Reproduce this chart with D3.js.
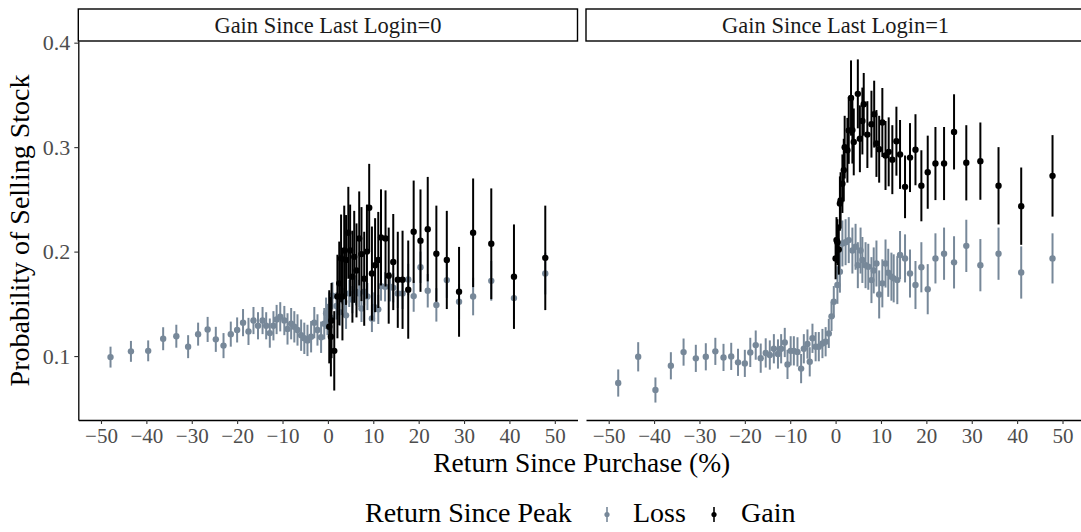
<!DOCTYPE html>
<html><head><meta charset="utf-8">
<script src="https://cdn.jsdelivr.net/npm/d3@7"></script>
<style>
body{margin:0;background:#fff}
svg{display:block}
text{font-family:"Liberation Serif","Times New Roman",serif}
</style>
</head><body>
<svg id="chart" width="1081" height="532"></svg>
<script>
// ---------- data ----------
const facetLabels = ["Gain Since Last Login=0", "Gain Since Last Login=1"];
const seriesNames = ["Loss", "Gain"];
const seriesColors = ["#778899", "#000000"];
const xTicks = [-50, -40, -30, -20, -10, 0, 10, 20, 30, 40, 50];
const yTicks = [0.1, 0.2, 0.3, 0.4];

// Facet 0 (Gain Since Last Login = 0), Loss series
const f0LossX = [-47.9,-43.4,-39.6,-36.3,-33.4,-30.8,-28.6,-26.5,-24.7,-23.0,-21.4,-20.0,-18.7,-17.5,-16.4,-15.4,-14.4,-13.6,-12.8,-12.0,-11.3,-10.5,-9.6,-8.9,-8.1,-7.4,-6.7,-5.9,-5.2,-4.5,-3.7,-3.0,-2.3,-1.5,-0.8,-0.4,-0.1,0.3,0.6,1.0,1.9,2.6,3.6,4.0,4.7,5.4,6.2,6.9,7.4,8.0,8.7,9.7,10.2,11.1,11.7,12.6,13.7,14.4,15.4,16.45,17.7,18.9,20.4,22.0,23.9,26.2,28.9,32.0,36.0,41.0,47.9];
const f0LossY = [0.099,0.1045,0.105,0.1166,0.119,0.109,0.121,0.1255,0.116,0.110,0.121,0.125,0.132,0.1236,0.134,0.129,0.134,0.129,0.122,0.129,0.135,0.1376,0.134,0.126,0.131,0.128,0.125,0.120,0.117,0.115,0.1185,0.132,0.125,0.118,0.131,0.141,0.135,0.147,0.137,0.1577,0.148,0.142,0.152,0.139,0.160,0.154,0.1615,0.160,0.1456,0.1615,0.157,0.136,0.147,0.1447,0.167,0.1663,0.1663,0.1654,0.160,0.160,0.1733,0.1574,0.185,0.1625,0.149,0.1727,0.152,0.157,0.172,0.1555,0.179];
const f0LossErr = [0.010,0.010,0.010,0.011,0.011,0.011,0.011,0.012,0.012,0.012,0.012,0.012,0.013,0.013,0.013,0.013,0.013,0.013,0.014,0.014,0.014,0.014,0.014,0.015,0.015,0.015,0.015,0.015,0.015,0.015,0.015,0.015,0.015,0.015,0.015,0.015,0.015,0.014,0.014,0.013,0.013,0.013,0.013,0.013,0.013,0.013,0.013,0.013,0.013,0.013,0.013,0.013,0.014,0.014,0.014,0.014,0.014,0.014,0.014,0.015,0.015,0.015,0.015,0.016,0.016,0.017,0.017,0.018,0.019,0.020,0.020];

// Facet 0, Gain series
const f0GainX = [0.3,0.66,0.8,1.4,2.1,2.5,2.9,3.2,3.6,4.0,4.5,4.9,5.4,5.8,6.3,6.9,7.4,8.0,8.6,9.1,9.7,10.4,11.1,11.7,12.7,13.4,14.4,15.4,16.45,17.7,18.9,20.4,22.0,23.9,26.2,28.9,32.0,36.0,41.0,47.9];
const f0GainY = [0.128,0.1185,0.134,0.105,0.157,0.1696,0.1935,0.157,0.201,0.192,0.218,0.201,0.176,0.195,0.182,0.2126,0.1976,0.174,0.200,0.242,0.179,0.187,0.192,0.2136,0.2126,0.177,0.190,0.173,0.173,0.1636,0.219,0.2105,0.2215,0.198,0.192,0.1615,0.218,0.2075,0.176,0.194];
const f0GainErr = [0.035,0.038,0.036,0.038,0.040,0.040,0.042,0.042,0.043,0.043,0.044,0.044,0.044,0.044,0.045,0.045,0.045,0.045,0.045,0.042,0.045,0.045,0.046,0.046,0.046,0.046,0.046,0.046,0.047,0.047,0.049,0.049,0.050,0.046,0.047,0.043,0.052,0.053,0.050,0.050];

// Facet 1 (Gain Since Last Login = 1), Loss series
const f1LossX = [-47.9,-43.5,-39.7,-36.3,-33.5,-30.8,-28.6,-26.5,-24.7,-23.0,-21.5,-20.0,-18.8,-17.6,-16.5,-15.4,-14.5,-13.6,-12.7,-12.0,-11.2,-10.6,-9.9,-9.2,-8.4,-7.6,-7.0,-6.2,-5.7,-5.1,-4.4,-3.7,-2.9,-2.2,-1.5,-0.9,-0.4,0.4,0.95,1.5,2.2,2.9,3.7,4.4,4.9,5.5,5.9,6.6,7.2,7.9,8.4,9.0,9.6,10.3,11.0,11.6,12.3,12.8,13.6,14.2,15.3,16.4,17.6,18.9,20.3,22.0,23.9,26.1,28.8,31.9,35.9,40.9,47.8];
const f1LossY = [0.0742,0.0993,0.0675,0.0907,0.1038,0.0978,0.0993,0.1045,0.0987,0.0997,0.094,0.093,0.1035,0.1105,0.098,0.103,0.101,0.107,0.102,0.107,0.113,0.092,0.105,0.105,0.104,0.088,0.107,0.1115,0.0945,0.117,0.109,0.109,0.112,0.1137,0.1217,0.138,0.152,0.168,0.1807,0.2078,0.209,0.211,0.201,0.2046,0.187,0.201,0.192,0.187,0.1855,0.1727,0.182,0.1886,0.159,0.1696,0.1886,0.1797,0.176,0.1744,0.1727,0.1967,0.1935,0.179,0.168,0.185,0.164,0.1935,0.198,0.1897,0.2055,0.187,0.198,0.180,0.1935];
const f1LossErr = [0.013,0.014,0.012,0.013,0.013,0.013,0.013,0.013,0.013,0.013,0.013,0.013,0.014,0.014,0.014,0.014,0.014,0.014,0.014,0.014,0.014,0.014,0.014,0.014,0.014,0.014,0.014,0.014,0.014,0.014,0.014,0.014,0.014,0.014,0.014,0.014,0.015,0.018,0.020,0.022,0.022,0.022,0.022,0.022,0.022,0.022,0.022,0.022,0.022,0.022,0.022,0.022,0.023,0.023,0.023,0.023,0.023,0.023,0.023,0.023,0.023,0.023,0.023,0.024,0.024,0.024,0.025,0.025,0.025,0.025,0.025,0.025,0.024];

// Facet 1, Gain series
const f1GainX = [0.0,0.2,0.4,0.7,0.95,1.1,1.5,1.8,2.0,2.6,2.9,3.4,3.7,4.0,4.9,5.35,5.9,6.2,7.0,7.9,8.5,9.0,9.6,10.3,11.0,11.7,12.5,13.4,14.2,15.3,16.4,17.6,18.9,20.3,22.0,23.9,26.1,28.8,31.9,35.9,40.9,47.8];
const f1GainY = [0.1935,0.211,0.209,0.202,0.246,0.249,0.265,0.278,0.300,0.297,0.316,0.347,0.3163,0.305,0.351,0.308,0.325,0.341,0.312,0.322,0.3316,0.3035,0.298,0.3236,0.292,0.2955,0.288,0.3057,0.293,0.262,0.290,0.2975,0.263,0.276,0.2843,0.2843,0.3146,0.285,0.2866,0.263,0.2435,0.2725];
const f1GainErr = [0.020,0.022,0.022,0.024,0.026,0.027,0.028,0.030,0.030,0.031,0.032,0.036,0.032,0.032,0.033,0.032,0.032,0.030,0.032,0.032,0.032,0.032,0.032,0.033,0.033,0.033,0.033,0.033,0.033,0.030,0.033,0.034,0.034,0.035,0.035,0.035,0.036,0.036,0.037,0.037,0.037,0.039];

// ---------- layout ----------
const svg = d3.select("#chart");
const panelLeft = [78.3, 586];
const panelW = 499.2;
const panelTop = 41, panelBottom = 420;
const stripTop = 9;
const tickFont = 21, titleFont = 27.5, stripFont = 22.5;

const x = d3.scaleLinear().domain([-55, 55]).range([0, panelW]);
const y = d3.scaleLinear().domain([0.0388, 0.4016]).range([panelBottom, panelTop]);

const facets = [
  [{x: f0LossX, y: f0LossY, e: f0LossErr}, {x: f0GainX, y: f0GainY, e: f0GainErr}],
  [{x: f1LossX, y: f1LossY, e: f1LossErr}, {x: f1GainX, y: f1GainY, e: f1GainErr}]
];

facets.forEach((series, fi) => {
  const g = svg.append("g").attr("transform", `translate(${panelLeft[fi]},0)`);

  // strip
  g.append("rect").attr("x", 0).attr("y", stripTop).attr("width", panelW).attr("height", panelTop - stripTop)
    .attr("fill", "#fff").attr("stroke", "#000").attr("stroke-width", 1.4);
  g.append("text").attr("x", panelW / 2).attr("y", (stripTop + panelTop) / 2 + 7.5)
    .attr("text-anchor", "middle").attr("font-size", stripFont).attr("fill", "#1a1a1a").text(facetLabels[fi]);

  // marks
  series.forEach((s, si) => {
    const data = s.x.map((xv, i) => ({x: xv, y: s.y[i], e: s.e[i]}));
    const sg = g.append("g");
    sg.selectAll("line").data(data).join("line")
      .attr("x1", d => x(d.x)).attr("x2", d => x(d.x))
      .attr("y1", d => y(d.y - d.e)).attr("y2", d => y(d.y + d.e))
      .attr("stroke", seriesColors[si]).attr("stroke-width", 2);
    sg.selectAll("circle").data(data).join("circle")
      .attr("cx", d => x(d.x)).attr("cy", d => y(d.y)).attr("r", 3.2)
      .attr("fill", seriesColors[si]);
  });

  // x axis
  const xa = g.append("g").attr("transform", `translate(0,${panelBottom})`)
    .call(d3.axisBottom(x).tickValues(xTicks).tickSize(4).tickSizeOuter(0).tickPadding(4).tickFormat(d3.format("d")));
  xa.select(".domain").attr("stroke", "#000").attr("stroke-width", 1.3);
  xa.selectAll(".tick line").attr("stroke", "#333").attr("stroke-width", 1.1);
  xa.selectAll(".tick text").attr("font-size", tickFont).attr("fill", "#4d4d4d")
    .attr("font-family", '"Liberation Serif",serif');

  if (fi === 0) {
    const ya = g.append("g")
      .call(d3.axisLeft(y).tickValues(yTicks).tickSize(4).tickSizeOuter(0).tickPadding(4).tickFormat(d3.format(".1f")));
    ya.select(".domain").attr("stroke", "#000").attr("stroke-width", 1.3);
    ya.selectAll(".tick line").attr("stroke", "#333").attr("stroke-width", 1.1);
    ya.selectAll(".tick text").attr("font-size", 22).attr("fill", "#4d4d4d")
      .attr("font-family", '"Liberation Serif",serif');
  }
});

// axis titles
svg.append("text").attr("x", (panelLeft[0] + panelLeft[1] + panelW) / 2).attr("y", 472)
  .attr("text-anchor", "middle").attr("font-size", titleFont).attr("fill", "#000")
  .text("Return Since Purchase (%)");
svg.append("text").attr("transform", `translate(29,${(panelTop + panelBottom) / 2}) rotate(-90)`)
  .attr("text-anchor", "middle").attr("font-size", 28).attr("fill", "#000")
  .text("Probability of Selling Stock");

// legend
const leg = svg.append("g");
leg.append("text").attr("x", 365).attr("y", 522).attr("font-size", 28).text("Return Since Peak");
const keyX = [607, 714], labX = [633, 741];
seriesNames.forEach((n, i) => {
  leg.append("line").attr("x1", keyX[i]).attr("x2", keyX[i]).attr("y1", 507).attr("y2", 522)
    .attr("stroke", seriesColors[i]).attr("stroke-width", 1.6);
  leg.append("circle").attr("cx", keyX[i]).attr("cy", 514.5).attr("r", 2.6).attr("fill", seriesColors[i]);
  leg.append("text").attr("x", labX[i]).attr("y", 522).attr("font-size", 28).text(n);
});
</script>
</body></html>
